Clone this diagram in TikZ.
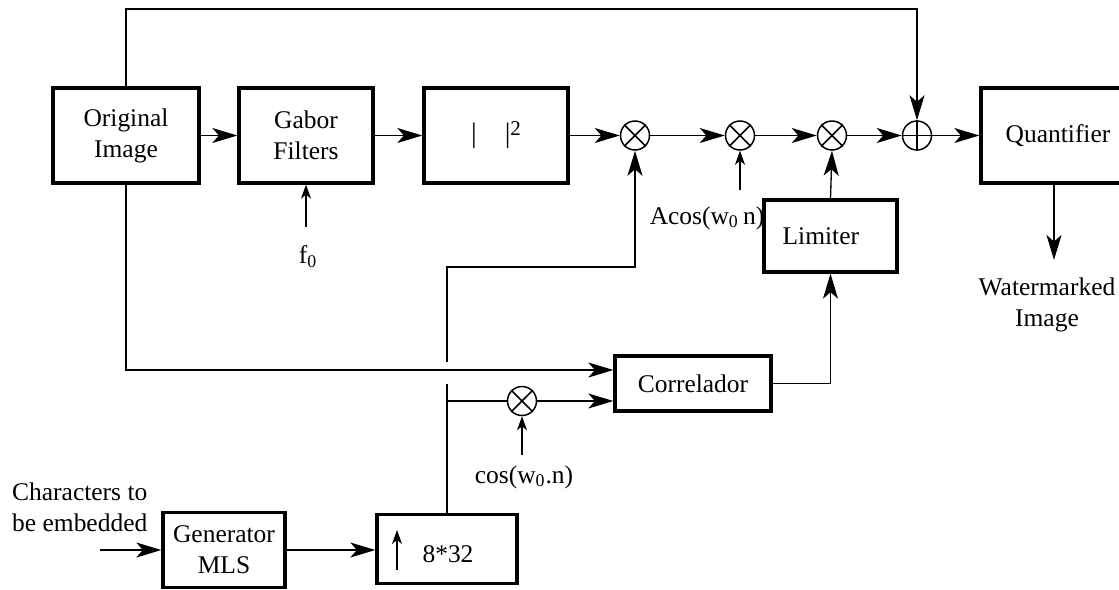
\documentclass[tikz,border=0pt]{standalone}
\usepackage{fontspec}
\setmainfont{Liberation Serif}
\usetikzlibrary{arrows.meta,calc}
\begin{document}
\begin{tikzpicture}[x=0.02cm,y=-0.02cm,
  every node/.style={font=\fontsize{14.5}{17.6}\selectfont},
  blk/.style={draw,line width=1.9pt,inner sep=0pt,align=center},
  wire/.style={line width=0.75pt},
  big/.style={-{Stealth[length=0.5cm,width=0.3cm,inset=0.13cm]}},
  small/.style={-{Stealth[length=0.28cm,width=0.2cm,inset=0.08cm]}},
  mult/.style={circle,draw,line width=0.85pt,minimum size=0.58cm,inner sep=0pt}]
\useasboundingbox (0,0) rectangle (1119,589);
\clip (0,0) rectangle (1119,589);

% blocks
\node[blk,minimum width=2.92cm,minimum height=1.9cm] (orig) at (126,135.5) {Original\\Image};
\node[blk,minimum width=2.68cm,minimum height=1.9cm] (gabor) at (306,135.5) {Gabor\\Filters};
\node[blk,minimum width=2.88cm,minimum height=1.9cm] (sq) at (496,135.5) {\fontsize{16}{18}\selectfont|\hspace{16pt}|\raisebox{4pt}{\fontsize{12}{14}\selectfont 2}};
\node[blk,minimum width=3.08cm,minimum height=1.9cm] (quant) at (1058,135.5) {Quantifier};
\node[blk,minimum width=2.66cm,minimum height=1.44cm] (limiter) at (830.5,236) {Limiter\hspace*{11pt}};
\node[blk,minimum width=3.12cm,minimum height=1.1cm] (corr) at (693,383.5) {Correlador};
\node[blk,minimum width=2.44cm,minimum height=1.5cm] (gen) at (224,550) {Generator\\MLS};
\node[blk,minimum width=2.8cm,minimum height=1.38cm] (up) at (447,549) {};
\node (t832) at (448,554) {8*32};

% operators
\node[mult] (m1) at (635,135.5) {};
\node[mult] (m2) at (740,135.5) {};
\node[mult] (m3) at (832,135.5) {};
\node[mult] (add) at (917,135.5) {};
\node[mult] (m4) at (522,401) {};
\foreach \m in {m1,m2,m3,m4}
  \draw[line width=0.85pt] (\m.north west) -- (\m.south east) (\m.north east) -- (\m.south west);
\draw[line width=0.85pt] (add.north) -- (add.south) (add.west) -- (add.east);

% coordinates
\coordinate (top) at (520,9);
\coordinate (f0) at (306,227);
\coordinate (ac) at (740,190);
\coordinate (wm) at (1054,260);
\coordinate (gb) at (447,384);
\coordinate (gt) at (447,362);
\coordinate (turn) at (447,267);
\coordinate (j1) at (447,401);
\coordinate (cs) at (522,455);
\coordinate (cin) at (100,550);
\coordinate (ua) at (397,570);
\coordinate (ub) at (397,530);

% main chain
\draw[wire,big] (orig.east) -- (gabor.west);
\draw[wire,big] (gabor.east) -- (sq.west);
\draw[wire,big] (sq.east) -- (m1.west);
\draw[wire,big] (m1.east) -- (m2.west);
\draw[wire,big] (m2.east) -- (m3.west);
\draw[wire,big] (m3.east) -- (add.west);
\draw[wire,big] (add.east) -- (quant.west);
\draw[wire,big] (orig.north) |- (top) -| (add.north);

% side inputs
\draw[wire,small] (f0) -- (gabor.south);
\node (f0t) at (308,257) {f\textsubscript{0}};
\draw[wire,small] (ac) -- (m2.south);
\node (act) at (707,218) {Acos(w\textsubscript{0}\,n)};
\draw[wire,big] (limiter.north) -- (m3.south);
\draw[wire,big] (corr.east) -| (limiter.south);
\draw[wire,big] (wm |- quant.south) -- (wm);
\node[align=center] (wmt) at (1047,305) {Watermarked\\Image};

% lower part
\draw[wire,big] (orig.south) |- ([yshift=0.27cm]corr.west);
\draw[wire] (up.north) -- (gb);
\draw[wire,big] (gt) -- (turn) -| (m1.south);
\draw[wire] (j1) -- (m4.west);
\draw[wire,big] (m4.east) -- (m4.east -| corr.west);
\draw[wire,small] (cs) -- (m4.south);
\node (cst) at (524,477) {cos(w\textsubscript{0}.n)};
\node[anchor=west,align=left] (chars) at (6,507) {Characters to\\be embedded};
\draw[wire,big] (cin) -- (gen.west);
\draw[wire,big] (gen.east) -- (gen.east -| up.west);
\draw[wire,small] (ua) -- (ub);
\end{tikzpicture}
\end{document}
